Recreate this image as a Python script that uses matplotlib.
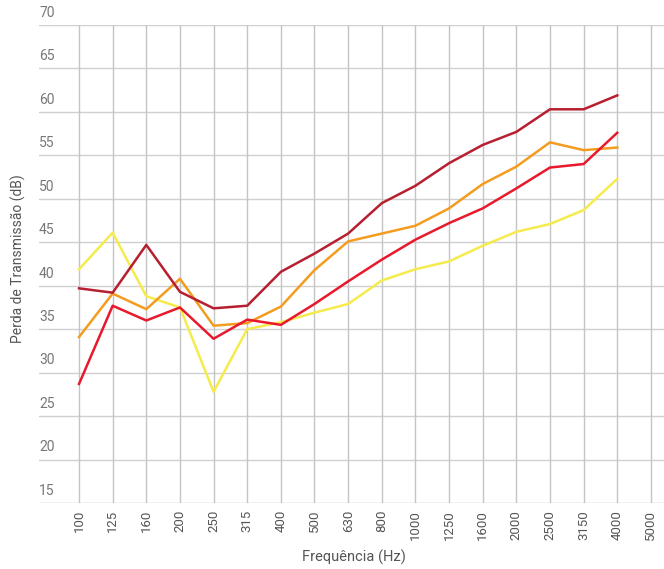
import matplotlib.pyplot as plt
import matplotlib.transforms as mtransforms

plt.rcParams['font.family'] = ['Roboto', 'DejaVu Sans']

# Frequências (bandas de 1/3 de oitava)
frequencias = ['100', '125', '160', '200', '250', '315', '400', '500', '630', '800',
               '1000', '1250', '1600', '2000', '2500', '3150', '4000', '5000']

# Perda de transmissão (dB) por série, de 100 Hz a 4000 Hz
serie_amarela = [41.9, 46.1, 38.8, 37.5, 27.8, 35.0, 35.8, 36.9, 37.9, 40.6,
                 41.9, 42.8, 44.6, 46.2, 47.1, 48.7, 52.3]
serie_laranja = [34.1, 39.1, 37.3, 40.8, 35.4, 35.7, 37.6, 41.8, 45.1, 46.0,
                 46.9, 48.9, 51.7, 53.7, 56.5, 55.6, 55.9]
serie_vermelha = [28.7, 37.7, 36.0, 37.5, 33.9, 36.1, 35.5, 37.9, 40.5, 43.0,
                  45.3, 47.2, 48.9, 51.2, 53.6, 54.0, 57.6]
serie_vinho = [39.7, 39.2, 44.7, 39.3, 37.4, 37.7, 41.6, 43.7, 46.0, 49.5,
               51.5, 54.1, 56.2, 57.7, 60.3, 60.3, 61.9]

y_ticks = [15, 20, 25, 30, 35, 40, 45, 50, 55, 60, 65, 70]

fig = plt.figure(figsize=(6.64, 5.69), dpi=100)
ax = fig.add_axes([39 / 664, 1 - 503 / 569, 1 - 39 / 664, (503 - 25) / 569])

x = list(range(len(frequencias)))
n = len(serie_vinho)

ax.set_xlim(-1.19, 17.39)
ax.set_ylim(15, 70)

# grade horizontal (largura toda), rótulos em cima da linha
trans = mtransforms.blended_transform_factory(ax.transAxes, ax.transData)
for v in y_ticks:
    cor = '#bdbdbd' if v == 15 else '#d0d0d0'
    ax.axhline(v, color=cor, linewidth=1.0, zorder=1)
    ax.text(0.0, v + 0.6, str(v), transform=trans,
            ha='left', va='bottom', fontsize=10, color='#777777')

# grade vertical (só dentro da faixa de y)
ax.vlines(x, 15, 70, color='#c4c4c4', linewidth=1.0, zorder=1)

ax.plot(x[:n], serie_amarela, color='#f5eb4c', linewidth=1.8, zorder=3)
ax.plot(x[:n], serie_laranja, color='#f39c1f', linewidth=1.8, zorder=4)
ax.plot(x[:n], serie_vermelha, color='#e8192c', linewidth=1.8, zorder=5)
ax.plot(x[:n], serie_vinho, color='#b71f30', linewidth=1.8, zorder=6)

ax.set_xticks(x)
ax.set_xticklabels(frequencias, rotation=90, fontsize=9.5, color='#555555')
ax.tick_params(axis='x', length=0, pad=5)
ax.set_yticks([])
for s in ax.spines.values():
    s.set_visible(False)

fig.text(354 / 664, 1 - 557 / 569, 'Frequência (Hz)', ha='center', va='center',
         fontsize=10.5, color='#555555')
fig.text(18 / 664, 1 - 259 / 569, 'Perda de Transmissão (dB)', ha='center', va='center',
         rotation=90, fontsize=10, color='#555555')

fig.savefig('out.png', dpi=100)
